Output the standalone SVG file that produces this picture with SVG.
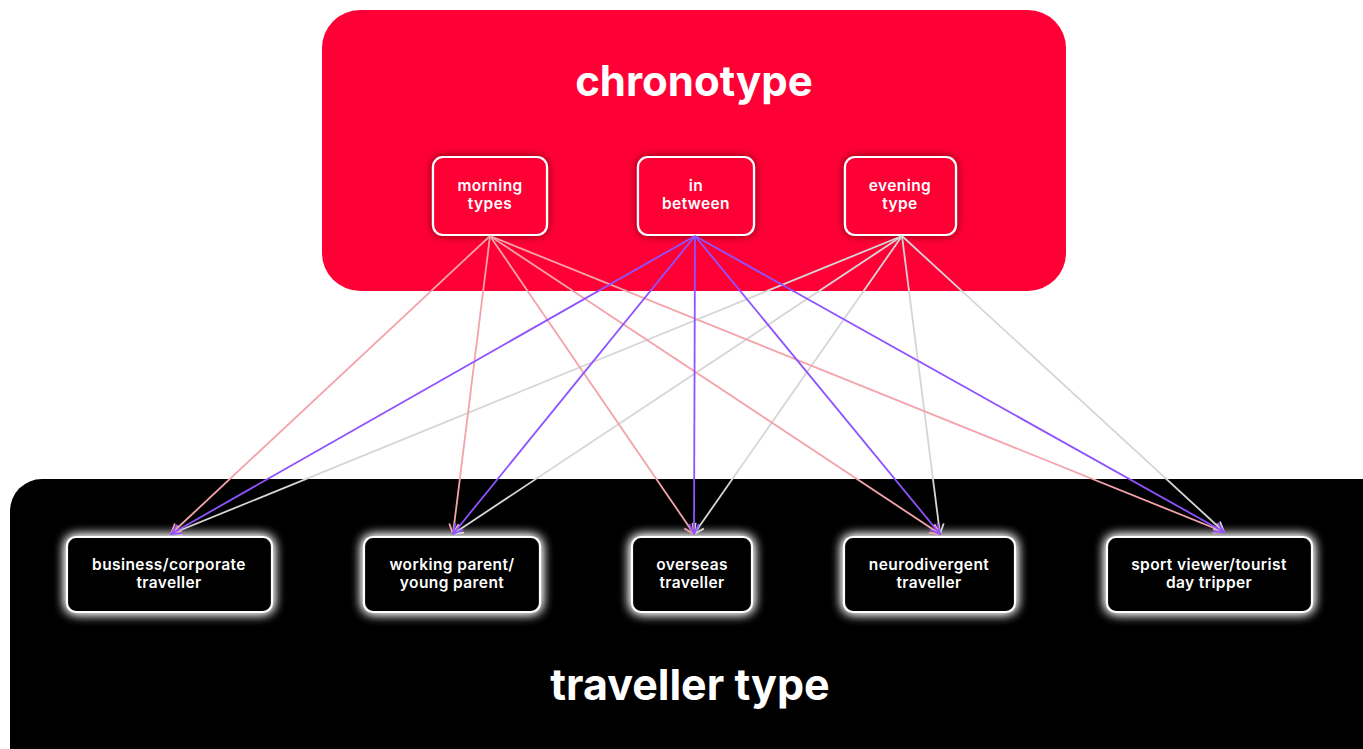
<svg xmlns="http://www.w3.org/2000/svg" width="1363" height="749" viewBox="0 0 1363 749">
<style>
.title{font-family:Inter,"Liberation Sans",sans-serif;font-weight:700;fill:#fff;text-anchor:middle}
.lbl{font-family:Inter,"Liberation Sans",sans-serif;font-weight:600;font-size:15.5px;letter-spacing:0.4px;fill:#fff;text-anchor:middle}
.top{fill:#ff0036;stroke:#fff;stroke-width:2.2}
.bot{fill:#000;stroke:#fff;stroke-width:2.2}
.pk{stroke:#f4a3ac;stroke-width:1.8;fill:none;marker-end:url(#apk)}
.pu{stroke:#8e52ff;stroke-width:1.8;fill:none;marker-end:url(#apu)}
.gr{stroke:#d6d6d6;stroke-width:1.8;fill:none;marker-end:url(#agr)}
</style>
<defs>
<marker id="apk" viewBox="0 0 12 12" refX="11" refY="6" markerWidth="12" markerHeight="12" markerUnits="userSpaceOnUse" orient="auto"><path d="M1,1 L11,6 L1,11" fill="none" stroke="#f4a3ac" stroke-width="1.8"/></marker>
<marker id="apu" viewBox="0 0 12 12" refX="11" refY="6" markerWidth="12" markerHeight="12" markerUnits="userSpaceOnUse" orient="auto"><path d="M1,1 L11,6 L1,11" fill="none" stroke="#8e52ff" stroke-width="1.8"/></marker>
<marker id="agr" viewBox="0 0 12 12" refX="11" refY="6" markerWidth="12" markerHeight="12" markerUnits="userSpaceOnUse" orient="auto"><path d="M1,1 L11,6 L1,11" fill="none" stroke="#d6d6d6" stroke-width="1.8"/></marker>
<filter id="shadow" x="-30%" y="-30%" width="160%" height="160%"><feDropShadow dx="0" dy="0" stdDeviation="4" flood-color="#5a0010" flood-opacity="0.8"/></filter>
<filter id="glow" x="-30%" y="-40%" width="160%" height="180%"><feGaussianBlur in="SourceAlpha" stdDeviation="6" result="b"/><feFlood flood-color="#fff" flood-opacity="1"/><feComposite in2="b" operator="in" result="g"/><feMerge><feMergeNode in="g"/><feMergeNode in="g"/><feMergeNode in="SourceGraphic"/></feMerge></filter>
</defs>
<rect width="1363" height="749" fill="#fff"/>
<g id="chronotype">
<rect x="322" y="10" width="744" height="281" rx="38" fill="#ff0036"/>
<text class="title" x="694" y="96" font-size="42">chronotype</text>
</g>
<g id="traveller-type">
<rect x="10" y="479" width="1390" height="300" rx="32" fill="#000"/>
<text class="title" x="690" y="700" font-size="43">traveller type</text>
</g>
<g id="morning"><rect class="top" x="433" y="157" width="114" height="78" rx="10" filter="url(#shadow)"/><text class="lbl" x="490" y="191">morning</text><text class="lbl" x="490" y="209">types</text></g>
<g id="between"><rect class="top" x="638" y="157" width="116" height="78" rx="10" filter="url(#shadow)"/><text class="lbl" x="696" y="191">in</text><text class="lbl" x="696" y="209">between</text></g>
<g id="evening"><rect class="top" x="845" y="157" width="111" height="78" rx="10" filter="url(#shadow)"/><text class="lbl" x="900" y="191">evening</text><text class="lbl" x="900" y="209">type</text></g>
<g id="business"><rect class="bot" x="67" y="537" width="205" height="75" rx="9" filter="url(#glow)"/><text class="lbl" x="169" y="570">business/corporate</text><text class="lbl" x="169" y="588">traveller</text></g>
<g id="working"><rect class="bot" x="364" y="537" width="176" height="75" rx="9" filter="url(#glow)"/><text class="lbl" x="452" y="570">working parent/</text><text class="lbl" x="452" y="588">young parent</text></g>
<g id="overseas"><rect class="bot" x="632" y="537" width="120" height="75" rx="9" filter="url(#glow)"/><text class="lbl" x="692" y="570">overseas</text><text class="lbl" x="692" y="588">traveller</text></g>
<g id="neuro"><rect class="bot" x="844" y="537" width="171" height="75" rx="9" filter="url(#glow)"/><text class="lbl" x="929" y="570">neurodivergent</text><text class="lbl" x="929" y="588">traveller</text></g>
<g id="sport"><rect class="bot" x="1107" y="537" width="205" height="75" rx="9" filter="url(#glow)"/><text class="lbl" x="1209" y="570">sport viewer/tourist</text><text class="lbl" x="1209" y="588">day tripper</text></g>
<g id="connectors">
<line class="gr" x1="902" y1="236" x2="171" y2="534"/>
<line class="gr" x1="902" y1="236" x2="453" y2="534"/>
<line class="gr" x1="902" y1="236" x2="694" y2="534"/>
<line class="gr" x1="902" y1="236" x2="940" y2="534"/>
<line class="gr" x1="902" y1="236" x2="1224" y2="532"/>
<line class="pk" x1="490" y1="236" x2="171" y2="534"/>
<line class="pk" x1="490" y1="236" x2="453" y2="534"/>
<line class="pk" x1="490" y1="236" x2="694" y2="534"/>
<line class="pk" x1="490" y1="236" x2="940" y2="534"/>
<line class="pk" x1="490" y1="236" x2="1224" y2="532"/>
<line class="pu" x1="695" y1="236" x2="171" y2="534"/>
<line class="pu" x1="695" y1="236" x2="453" y2="534"/>
<line class="pu" x1="695" y1="236" x2="694" y2="534"/>
<line class="pu" x1="695" y1="236" x2="940" y2="534"/>
<line class="pu" x1="695" y1="236" x2="1224" y2="532"/>
</g>
</svg>
